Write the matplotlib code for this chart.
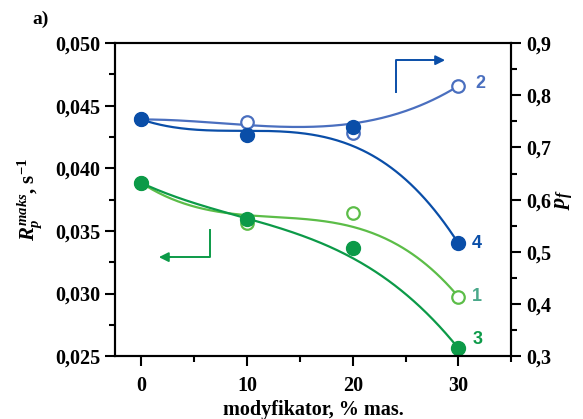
import numpy as np
import matplotlib
matplotlib.use('Agg')
import matplotlib.pyplot as plt
from matplotlib.ticker import MultipleLocator, FuncFormatter

# Data
modifier = [0, 10, 20, 30]  # modyfikator, % mas.

# left axis: R_p^maks, s^-1
r_open_1 = [0.03884, 0.0356, 0.0364, 0.02974]
r_fill_3 = [0.03884, 0.03592, 0.03365, 0.02562]
# right axis: p_f
p_open_2 = [0.7537, 0.748, 0.727, 0.818]
p_fill_4 = [0.7537, 0.7236, 0.7395, 0.516]

# smooth curves drawn through the reference (they do not pass through every point)
fit_1 = [0.03884, 0.03626, 0.03533, 0.02974]
fit_3 = [0.03884, 0.0360, 0.03283, 0.02562]
fit_2 = [0.7537, 0.743, 0.746, 0.818]
fit_4 = [0.7537, 0.732, 0.703, 0.516]

LIGHT_GREEN = '#5cbd48'
DARK_GREEN = '#0c9a48'
LIGHT_BLUE = '#4a6fbf'
DARK_BLUE = '#0a4ea8'

plt.rcParams['mathtext.fontset'] = 'custom'
plt.rcParams['mathtext.rm'] = 'Liberation Serif:bold'
plt.rcParams['mathtext.it'] = 'Liberation Serif:italic:bold'
plt.rcParams['mathtext.bf'] = 'Liberation Serif:bold'

SERIF = dict(family='Liberation Serif', weight='bold')


def smooth(xs, ys):
    coef = np.polyfit(xs, ys, 3)
    xx = np.linspace(xs[0], xs[-1], 200)
    return xx, np.polyval(coef, xx)


fig = plt.figure(figsize=(5.83, 4.19), dpi=100)
ax = fig.add_axes([0.197, 0.150, 0.680, 0.747])
ax2 = ax.twinx()

# green series on the left axis
ax.plot(*smooth(modifier, fit_1), color=LIGHT_GREEN, lw=1.6)
ax.plot(*smooth(modifier, fit_3), color=DARK_GREEN, lw=1.6)
ax.plot(modifier, r_open_1, 'o', ms=9, mfc='white', mec=LIGHT_GREEN, mew=1.6, ls='none')
ax.plot(modifier, r_fill_3, 'o', ms=10, color=DARK_GREEN, ls='none')

# blue series on the right axis
ax2.plot(*smooth(modifier, fit_2), color=LIGHT_BLUE, lw=1.6)
ax2.plot(*smooth(modifier, fit_4), color=DARK_BLUE, lw=1.6)
ax2.plot(modifier, p_open_2, 'o', ms=9, mfc='white', mec=LIGHT_BLUE, mew=1.6, ls='none')
ax2.plot(modifier, p_fill_4, 'o', ms=10, color=DARK_BLUE, ls='none')

ax.set_xlim(-2.5, 35)
ax.set_ylim(0.025, 0.050)
ax2.set_ylim(0.3, 0.9)

ax.xaxis.set_major_locator(MultipleLocator(10))
ax.xaxis.set_minor_locator(MultipleLocator(5))
ax.yaxis.set_major_locator(MultipleLocator(0.005))
ax.yaxis.set_minor_locator(MultipleLocator(0.0025))
ax2.yaxis.set_major_locator(MultipleLocator(0.1))
ax2.yaxis.set_minor_locator(MultipleLocator(0.05))

ax.yaxis.set_major_formatter(FuncFormatter(lambda v, p: f'{v:.3f}'.replace('.', ',')))
ax2.yaxis.set_major_formatter(FuncFormatter(lambda v, p: f'{v:.1f}'.replace('.', ',')))

for a in (ax, ax2):
    for s in a.spines.values():
        s.set_linewidth(1.5)
    a.tick_params(which='major', direction='out', length=7, width=1.5)
    a.tick_params(which='minor', direction='out', length=4, width=1.5)
    for lab in a.get_xticklabels() + a.get_yticklabels():
        lab.set_fontfamily('Liberation Serif')
        lab.set_fontweight('bold')
        lab.set_fontsize(14.5)
ax.tick_params(axis='x', which='major', pad=7)

ax.set_xlabel('modyfikator, % mas.', fontsize=14.5, labelpad=3, **SERIF)
ax.set_ylabel(r'$R_p^{maks}$, s$^{-1}$', fontsize=15, labelpad=8, **SERIF)
ax2.set_ylabel(r'$p_f$', fontsize=16, labelpad=2, **SERIF)

# arrows showing which axis belongs to which pair
ax.plot([24.1, 24.1, 28.0], [0.04609, 0.04864, 0.04864], color=DARK_BLUE, lw=1.4)
ax.annotate('', xy=(29.0, 0.04864), xytext=(27.5, 0.04864),
            arrowprops=dict(arrowstyle='-|>', color=DARK_BLUE, lw=1.4, mutation_scale=14))
ax.plot([6.5, 6.5, 2.6], [0.03506, 0.03291, 0.03291], color=DARK_GREEN, lw=1.4)
ax.annotate('', xy=(1.4, 0.03291), xytext=(3.0, 0.03291),
            arrowprops=dict(arrowstyle='-|>', color=DARK_GREEN, lw=1.4, mutation_scale=14))

# curve numbers
num = dict(family='Liberation Sans', weight='bold', fontsize=13, va='center')
ax2.text(31.6, p_open_2[-1] + 0.005, '2', color=LIGHT_BLUE, **num)
ax2.text(31.3, p_fill_4[-1], '4', color=DARK_BLUE, **num)
ax.text(31.3, r_open_1[-1], '1', color='#4aa88a', **num)
ax.text(31.3, r_fill_3[-1] + 0.0007, '3', color=DARK_GREEN, **num)

fig.text(0.055, 0.955, 'a)', fontsize=14, ha='left', va='center', **SERIF)

fig.savefig('out.png', dpi=100)
